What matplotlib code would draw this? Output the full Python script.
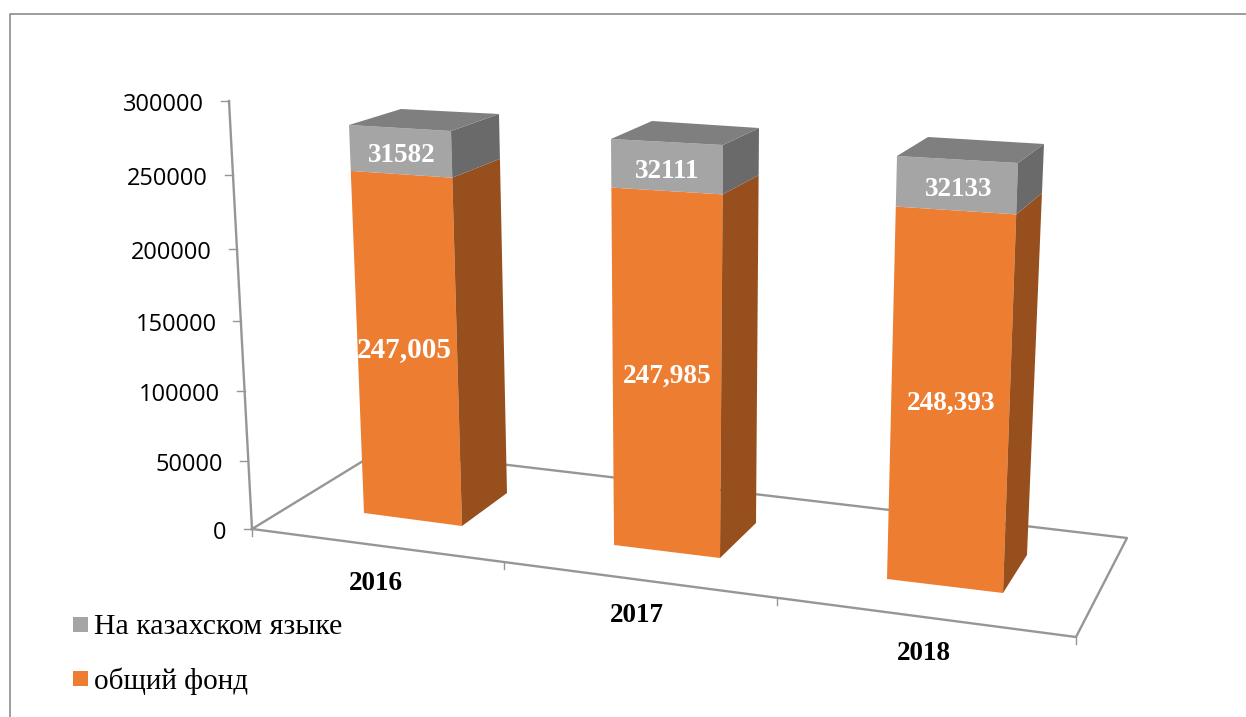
import matplotlib
matplotlib.use('Agg')
import matplotlib.pyplot as plt

years = ['2016', '2017', '2018']
fund = [247005, 247985, 248393]
kazakh = [31582, 32111, 32133]
y_ticks = [0, 50000, 100000, 150000, 200000, 250000, 300000]
names = ['На казахском языке', 'общий фонд']

ORANGE = '#ED7D31'
ORANGE_SIDE = '#984F1E'
GRAY = '#A5A5A5'
GRAY_TOP = '#7F7F7F'
GRAY_SIDE = '#6A6A6A'
AXIS = '#969696'
SERIF = 'Liberation Serif'

# screen corners of each bar: front-left, front-right, back-right, at the
# base and at the top of the stack, plus the back-left corner of the lid
base_fl = [(364, 513), (614, 545), (887, 579)]
base_fr = [(462, 526), (720, 558), (1003, 593)]
base_br = [(507, 493), (756, 523), (1027, 555)]
top_fl = [(349, 125), (611, 139), (897, 156)]
top_fr = [(451, 131), (723, 145), (1018, 163)]
top_br = [(499, 114), (759, 128), (1044, 144)]
top_bl = [(401, 109), (652, 121), (928, 137)]

fund_label_pos = [(404, 350), (667, 376), (951, 403)]
fund_label_size = [21, 19.7, 19.7]
kazakh_label_pos = [(402, 156), (667, 172), (959, 190)]
year_label_pos = [(376, 583), (637, 616), (924, 654)]
tick_label_right = [226, 223, 220, 217, 212, 208, 204]


def persp(v):
    # the value axis gets slightly stretched towards the top
    t = v / 300000
    return t / (1 + 0.053 * (1 - t))


def at(p0, p1, v, total):
    f = persp(v) / persp(total)
    return (p0[0] + (p1[0] - p0[0]) * f, p0[1] + (p1[1] - p0[1]) * f)


fig = plt.figure(figsize=(12.46, 7.17), dpi=100)
ax = fig.add_axes([0, 0, 1, 1])
ax.set_xlim(0, 1246)
ax.set_ylim(717, 0)
ax.axis('off')

# frame
ax.plot([9.5, 9.5, 1246], [717, 13.5, 13.5], color='#8C8C8C', lw=1.2)

# floor and value axis
floor = [(252, 529), (381, 450), (1127, 538), (1076, 637), (252, 529)]
ax.plot([p[0] for p in floor], [p[1] for p in floor], color=AXIS, lw=1.7, zorder=1)
axis_bottom = (252, 529)
axis_top = (229, 101)
ax.plot([axis_bottom[0], axis_top[0]], [axis_bottom[1], axis_top[1]], color=AXIS, lw=1.7, zorder=1)
for v, right in zip(y_ticks, tick_label_right):
    x, y = at(axis_bottom, axis_top, v, 300000)
    ax.plot([x - 8, x], [y, y], color=AXIS, lw=1, zorder=1)
    ax.text(right, y + 4, str(v), ha='right', va='center', fontsize=17,
            family='Open Sans', color='black')

# category ticks on the front edge of the floor
for x, y in [(252, 529), (504, 562), (777, 598), (1076, 637)]:
    ax.plot([x, x], [y, y + 7], color=AXIS, lw=1, zorder=1)

for i in range(len(years)):
    total = fund[i] + kazakh[i]
    split_fl = at(base_fl[i], top_fl[i], fund[i], total)
    split_fr = at(base_fr[i], top_fr[i], fund[i], total)
    split_br = at(base_br[i], top_br[i], fund[i], total)

    ax.fill(*zip(base_fl[i], base_fr[i], split_fr, split_fl), color=ORANGE, lw=0, zorder=2)
    ax.fill(*zip(base_fr[i], base_br[i], split_br, split_fr), color=ORANGE_SIDE, lw=0, zorder=2)
    ax.fill(*zip(split_fl, split_fr, top_fr[i], top_fl[i]), color=GRAY, lw=0, zorder=2)
    ax.fill(*zip(split_fr, split_br, top_br[i], top_fr[i]), color=GRAY_SIDE, lw=0, zorder=2)
    ax.fill(*zip(top_fl[i], top_fr[i], top_br[i], top_bl[i]), color=GRAY_TOP, lw=0, zorder=2)

    ax.text(*fund_label_pos[i], f'{fund[i]:,}', color='white', ha='center', va='center',
            fontsize=fund_label_size[i], family=SERIF, fontweight='bold', zorder=3)
    ax.text(*kazakh_label_pos[i], str(kazakh[i]), color='white', ha='center', va='center',
            fontsize=19.5, family=SERIF, fontweight='bold', zorder=3)
    ax.text(*year_label_pos[i], years[i], color='black', ha='center', va='center',
            fontsize=19.5, family=SERIF, fontweight='bold')

# legend
for name, col, y, size in zip(names, [GRAY, ORANGE], [624, 678.5], [21.5, 21]):
    ax.fill([73, 88, 88, 73], [y - 7.5, y - 7.5, y + 7.5, y + 7.5], color=col, lw=0)
    ax.text(94, y + 3, name, ha='left', va='center', fontsize=size, family=SERIF, color='black')

fig.savefig('out.png', dpi=100)
